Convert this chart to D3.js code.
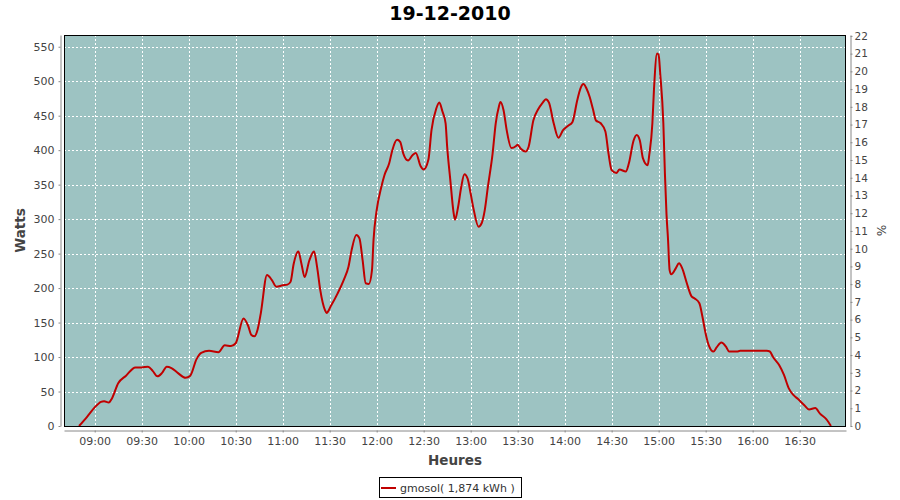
<!DOCTYPE html>
<html>
<head>
<meta charset="utf-8">
<script src="https://cdn.jsdelivr.net/npm/d3@7"></script>
<style>
  html, body { margin: 0; padding: 0; background: #fff; }
  svg { display: block; }
  text { font-family: "DejaVu Sans", sans-serif; }
</style>
</head>
<body>
<svg id="chart" width="900" height="500"></svg>
<script>
const title = "19-12-2010";
const seriesName = "gmosol( 1,874 kWh )";
const times = ["08:50","08:55","09:00","09:04","09:06","09:09","09:11","09:15","09:20","09:26","09:30","09:34","09:37","09:40","09:43","09:46","09:49","09:53","09:58","10:01","10:05","10:08","10:13","10:19","10:23","10:27","10:30","10:35","10:38","10:40","10:42","10:44","10:46","10:50","10:53","10:56","11:00","11:03","11:05","11:07","11:10","11:12","11:14","11:17","11:20","11:22","11:24","11:27","11:28","11:31","11:35","11:39","11:42","11:44","11:47","11:49","11:51","11:53","11:55","11:57","11:58","12:00","12:03","12:05","12:08","12:10","12:13","12:15","12:17","12:20","12:23","12:25","12:28","12:30","12:33","12:35","12:38","12:40","12:42","12:44","12:45","12:47","12:49","12:50","12:52","12:54","12:56","12:58","13:00","13:02","13:05","13:07","13:09","13:11","13:14","13:16","13:18","13:19","13:21","13:23","13:26","13:29","13:30","13:32","13:35","13:37","13:40","13:43","13:46","13:48","13:50","13:53","13:56","13:59","14:02","14:05","14:08","14:10","14:12","14:14","14:16","14:18","14:20","14:23","14:26","14:28","14:30","14:33","14:35","14:39","14:41","14:44","14:46","14:48","14:50","14:53","14:54","14:56","14:57","14:59","15:00","15:01","15:03","15:04","15:05","15:06","15:07","15:08","15:11","15:13","15:15","15:18","15:21","15:23","15:26","15:28","15:30","15:32","15:35","15:37","15:40","15:43","15:45","15:50","15:52","16:09","16:11","16:13","16:17","16:20","16:23","16:26","16:29","16:33","16:36","16:40","16:43","16:47","16:50"];
const watts = [0,13,27,35,36,34,40,62,73,85,85,86,80,72,77,86,84,77,70,73,97,106,109,107,117,116,120,156,145,132,130,140,163,219,212,202,204,205,209,235,253,235,216,240,253,230,197,168,164,175,192,212,231,255,277,272,241,207,206,226,270,313,347,364,381,400,415,412,395,385,393,396,377,372,386,429,460,469,456,439,405,357,311,299,318,347,365,359,337,313,289,294,313,347,395,439,463,470,458,429,403,406,408,402,398,405,443,459,469,474,469,439,418,429,435,441,472,489,496,489,477,460,443,439,427,395,371,367,372,369,381,414,422,414,388,378,393,439,487,540,538,511,439,366,308,270,226,220,229,236,229,207,188,185,178,158,134,117,108,114,121,115,108,108,109,109,108,100,88,74,55,45,39,30,24,26,18,10,0];
const leftTicks = [0,50,100,150,200,250,300,350,400,450,500,550];
const rightTicks = [0,1,2,3,4,5,6,7,8,9,10,11,12,13,14,15,16,17,18,19,20,21,22];
const xTickLabels = ["09:00","09:30","10:00","10:30","11:00","11:30","12:00","12:30","13:00","13:30","14:00","14:30","15:00","15:30","16:00","16:30"];

const parse = d3.timeParse("%H:%M");
const data = times.map((t, i) => ({ t: parse(t), v: watts[i] }));

const svg = d3.select("#chart");
const plot = { left: 64, right: 846, top: 35, bottom: 426 };

const tMin = d3.min(data, d => d.t), tMax = d3.max(data, d => d.t);
const span = tMax - tMin;
const x = d3.scaleTime()
  .domain([new Date(+tMin - span * 0.02), new Date(+tMax + span * 0.02)])
  .range([plot.left, plot.right]);
const vMax = d3.max(watts);
const y = d3.scaleLinear().domain([0, vMax * 1.05]).range([plot.bottom, plot.top]);
const y2 = d3.scaleLinear().domain([0, 22.05]).range([plot.bottom, plot.top]);

// plot background
svg.append("rect")
  .attr("x", plot.left).attr("y", plot.top)
  .attr("width", plot.right - plot.left).attr("height", plot.bottom - plot.top)
  .attr("fill", "#9dc3c2");

// grid
const xTickDates = xTickLabels.map(s => parse(s));
svg.append("g").selectAll("line").data(xTickDates).join("line")
  .attr("x1", d => Math.round(x(d)) + 0.5).attr("x2", d => Math.round(x(d)) + 0.5)
  .attr("y1", plot.top).attr("y2", plot.bottom)
  .attr("stroke", "#fff").attr("stroke-width", 1).attr("stroke-dasharray", "2,2");
svg.append("g").selectAll("line").data(leftTicks.filter(d => d > 0)).join("line")
  .attr("x1", plot.left).attr("x2", plot.right)
  .attr("y1", d => Math.round(y(d)) + 0.5).attr("y2", d => Math.round(y(d)) + 0.5)
  .attr("stroke", "#fff").attr("stroke-width", 1).attr("stroke-dasharray", "2,2");

// series line
const line = d3.line().x(d => x(d.t)).y(d => y(d.v)).curve(d3.curveMonotoneX);
svg.append("path").datum(data)
  .attr("d", line)
  .attr("fill", "none")
  .attr("stroke", "#c00000")
  .attr("stroke-width", 2)
  .attr("stroke-linejoin", "round");

// plot border
svg.append("rect")
  .attr("x", plot.left + 0.5).attr("y", plot.top + 0.5)
  .attr("width", plot.right - plot.left - 1).attr("height", plot.bottom - plot.top)
  .attr("fill", "none").attr("stroke", "#000").attr("stroke-width", 1);

function styleAxis(g) {
  g.select(".domain").attr("stroke", "#888");
  g.selectAll(".tick line").attr("stroke", "#888");
  g.selectAll(".tick text").attr("fill", "#444").style("font-size", "11px")
    .style("font-family", "'DejaVu Sans', sans-serif");
}

// left axis
svg.append("g")
  .attr("transform", `translate(${plot.left - 3.5},0)`)
  .call(d3.axisLeft(y).tickValues(leftTicks).tickSize(2).tickSizeOuter(0).tickPadding(4))
  .call(styleAxis);

// right axis
svg.append("g")
  .attr("transform", `translate(${plot.right + 4.5},0)`)
  .call(d3.axisRight(y2).tickValues(rightTicks).tickSize(2).tickSizeOuter(0).tickPadding(2))
  .call(styleAxis)
  .call(g => g.selectAll(".tick text").style("font-size", "10.5px"));

// bottom axis
svg.append("g")
  .attr("transform", `translate(0,${plot.bottom + 4.5})`)
  .call(d3.axisBottom(x).tickValues(xTickDates).tickFormat(d3.timeFormat("%H:%M")).tickSize(2).tickSizeOuter(0).tickPadding(5))
  .call(styleAxis);

// title
svg.append("text")
  .attr("x", 450).attr("y", 20)
  .attr("text-anchor", "middle")
  .style("font-size", "19px").style("font-weight", "bold")
  .attr("fill", "#000")
  .text(title);

// axis labels
svg.append("text")
  .attr("transform", `translate(25,${(plot.top + plot.bottom) / 2}) rotate(-90)`)
  .attr("text-anchor", "middle")
  .style("font-size", "13.5px").style("font-weight", "bold").attr("fill", "#444")
  .text("Watts");
svg.append("text")
  .attr("x", (plot.left + plot.right) / 2).attr("y", 465)
  .attr("text-anchor", "middle")
  .style("font-size", "13.5px").style("font-weight", "bold").attr("fill", "#444")
  .text("Heures");
svg.append("text")
  .attr("transform", `translate(877,${(plot.top + plot.bottom) / 2}) rotate(90)`)
  .attr("text-anchor", "middle")
  .style("font-size", "12px").attr("fill", "#444")
  .text("%");

// legend
const lg = svg.append("g");
lg.append("rect")
  .attr("x", 379.5).attr("y", 477.5).attr("width", 142).attr("height", 20)
  .attr("fill", "#fff").attr("stroke", "#000").attr("stroke-width", 1);
lg.append("line")
  .attr("x1", 381).attr("x2", 396).attr("y1", 488).attr("y2", 488)
  .attr("stroke", "#c00000").attr("stroke-width", 2);
lg.append("text")
  .attr("x", 400).attr("y", 492)
  .style("font-size", "11px").attr("fill", "#333")
  .text(seriesName);
</script>
</body>
</html>
